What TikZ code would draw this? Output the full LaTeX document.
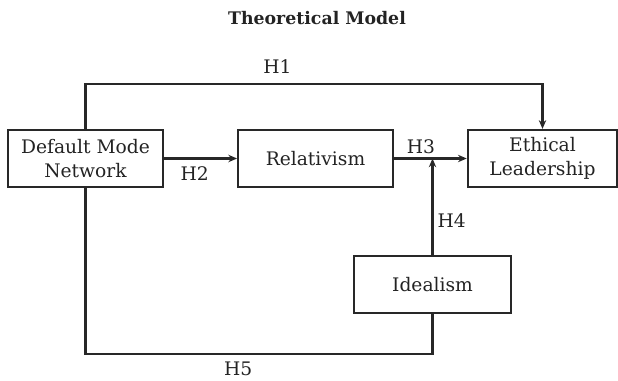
\documentclass[tikz,border=0pt]{standalone}
\usepackage{fontspec}
\setmainfont{DejaVu Serif}
\usetikzlibrary{arrows.meta,positioning}
\definecolor{linecolor}{RGB}{40,40,40}
\definecolor{labelcolor}{RGB}{35,35,35}
\begin{document}
\begin{tikzpicture}[
    x=0.75pt, y=-0.75pt,
    % Estilos dos nós
    varnode/.style={
        rectangle,
        draw=linecolor,
        line width=1.7pt,
        minimum width=116pt,
        minimum height=42.75pt,
        inner sep=0pt,
        align=center,
        text=labelcolor,
        font=\fontsize{14}{18}\selectfont
    },
    hlabel/.style={
        font=\fontsize{14}{18}\selectfont,
        text=labelcolor,
        inner sep=2pt
    },
    myarrow/.style={-{Stealth[length=6.5pt,width=5.5pt]}, line width=1.7pt, draw=linecolor},
    myline/.style={line width=1.7pt, draw=linecolor}
]
\useasboundingbox (0,0) rectangle (618,381);

% ============================================================================
% Título
% ============================================================================
\node[font=\fontsize{13}{16}\selectfont\bfseries, text=labelcolor] (title) at (317, 18) {Theoretical Model};

% ============================================================================
% Variáveis
% ============================================================================
\node[varnode] (dmn) at (85.5, 158.5) {Default Mode\\Network};
\node[varnode] (rel) at (315.5, 158.5) {Relativism};
\node[varnode, minimum width=112pt] (eth) at (542.5, 158.5) {Ethical\\Leadership};
\node[varnode, minimum width=117.75pt] (ide) at (432.5, 284.5) {Idealism};

% ============================================================================
% Hipóteses
% ============================================================================
\draw[myarrow] (dmn.north) -- ++(0,-45) -| node[hlabel, pos=0.21, above=5pt] {H1} (eth.north);
\draw[myarrow] (dmn.east) -- node[hlabel, pos=0.42, below=3pt] {H2} (rel.west);
\draw[myarrow] (rel.east) -- node[hlabel, pos=0.37, above=1pt] {H3} (eth.west);
\draw[myarrow] (ide.north) -- node[hlabel, pos=0.36, right=1pt] {H4} (ide.north |- rel.east);
\draw[myline] (dmn.south) -- ++(0,166) -| node[hlabel, pos=0.22, below=3pt] {H5} (ide.south);

\end{tikzpicture}
\end{document}
